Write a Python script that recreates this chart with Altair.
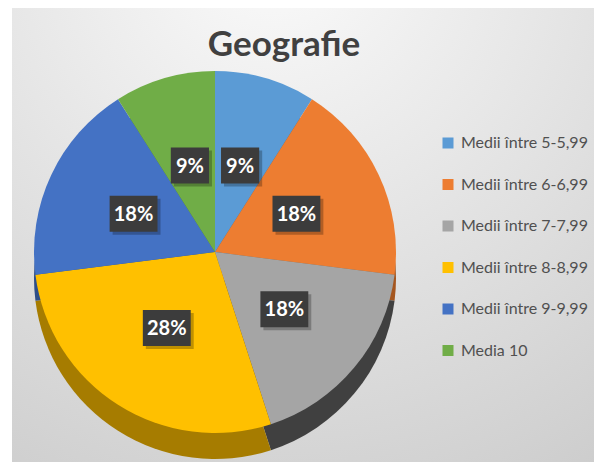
import altair as alt
import pandas as pd

title = "Geografie"
categories = ["Medii între 5-5,99", "Medii între 6-6,99", "Medii între 7-7,99",
              "Medii între 8-8,99", "Medii între 9-9,99", "Media 10"]
percents = [9, 18, 18, 28, 18, 9]
top_colors = ["#5B9BD5", "#ED7D31", "#A5A5A5", "#FFC000", "#4472C4", "#70AD47"]
side_colors = ["#3d6a94", "#a5561f", "#404040", "#a67c00", "#2f4f88", "#4d7a30"]

W, H = 586, 454
CX, CY = 207, 244
R = 181
DEPTH = 26
LR = 90

df = pd.DataFrame({"cat": categories, "pct": percents, "order": list(range(len(categories)))})
base = alt.Chart(df)

bg = alt.Chart(pd.DataFrame({"k": [0]})).mark_rect(
    color=alt.RadialGradient(
        gradient="radial",
        stops=[alt.GradientStop(offset=0, color="#fbfbfb"),
               alt.GradientStop(offset=0.4, color="#e8e8e8"),
               alt.GradientStop(offset=1, color="#cbcbcb")],
        x1=0.45, y1=0, x2=0.45, y2=0, r1=0, r2=1.1)
).encode(x=alt.value(4), x2=alt.value(W), y=alt.value(0), y2=alt.value(H))

side = base.mark_arc(radius=R).encode(
    theta=alt.Theta("pct:Q", stack=True),
    color=alt.Color("cat:N", scale=alt.Scale(domain=categories, range=side_colors), legend=None),
    order=alt.Order("order:Q"),
    x=alt.value(CX), y=alt.value(CY + DEPTH),
)

top = base.mark_arc(radius=R).encode(
    theta=alt.Theta("pct:Q", stack=True),
    color=alt.Color("cat:N", scale=alt.Scale(domain=categories, range=top_colors),
                    legend=alt.Legend(title=None, orient="none", legendX=432, legendY=127,
                                      symbolType="square", symbolSize=121, symbolStrokeWidth=0,
                                      labelFont="Lato", labelFontSize=16, labelColor="#505050",
                                      rowPadding=25.5, labelOffset=5)),
    order=alt.Order("order:Q"),
    x=alt.value(CX), y=alt.value(CY),
)

lab = base.transform_window(
    cum="sum(pct)", sort=[alt.SortField("order")]
).transform_joinaggregate(
    total="sum(pct)"
).transform_calculate(
    mid="(datum.cum - datum.pct / 2) / datum.total * 2 * PI",
    lx="sin(datum.mid)",
    ly="cos(datum.mid)",
    kind="datum.pct < 10 ? 'short' : 'long'",
    label="datum.pct + '%'",
)

xs = alt.X("lx:Q", scale=alt.Scale(domain=[-1, 1], range=[CX - LR, CX + LR]), axis=None)
ys = alt.Y("ly:Q", scale=alt.Scale(domain=[-1, 1], range=[CY + LR, CY - LR]), axis=None)
shape_scale = alt.Scale(domain=["short", "long"],
                        range=["M-1.06,-1L1.06,-1L1.06,1L-1.06,1Z",
                               "M-1.33,-1L1.33,-1L1.33,1L-1.33,1Z"])

shadow = lab.mark_point(filled=True, size=1296, color="#000000", opacity=0.25,
                        strokeWidth=0, xOffset=3, yOffset=3).encode(
    x=xs, y=ys, shape=alt.Shape("kind:N", scale=shape_scale, legend=None))
box = lab.mark_point(filled=True, size=1296, color="#3c3c3c", opacity=1,
                     strokeWidth=0).encode(
    x=xs, y=ys, shape=alt.Shape("kind:N", scale=shape_scale, legend=None))
txt = lab.mark_text(font="Lato", fontSize=20, fontWeight="bold", color="white",
                    baseline="middle", dy=1).encode(x=xs, y=ys, text="label:N")

ttl = alt.Chart(pd.DataFrame({"t": [title]})).mark_text(
    font="Lato", fontSize=35, fontWeight="bold", color="#404040",
    align="center", baseline="alphabetic").encode(
    text="t:N", x=alt.value(276), y=alt.value(48))

chart = alt.layer(bg, side, top, shadow, box, txt, ttl).resolve_scale(
    color="independent"
).properties(
    width=W, height=H, autosize=alt.AutoSizeParams(type="none"), padding=0,
    background="white"
).configure_view(stroke=None)

chart.save("out.html", embed_options={"renderer": "svg", "actions": False})
